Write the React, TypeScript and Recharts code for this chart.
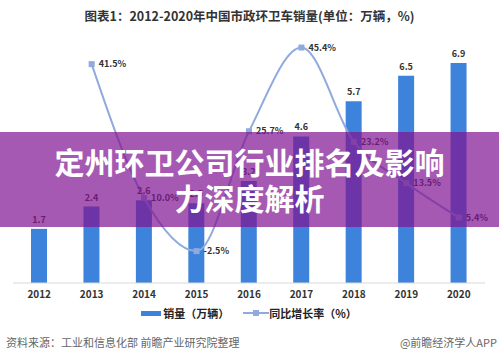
import { Bar, ComposedChart, LabelList, Legend, Line, XAxis, YAxis } from 'recharts'

const years = ['2012', '2013', '2014', '2015', '2016', '2017', '2018', '2019', '2020']
const sales = [1.7, 2.4, 2.6, 2.5, 3.2, 4.6, 5.7, 6.5, 6.9]
const growth = [null, 41.5, 10.0, -2.5, 25.7, 45.4, 23.2, 13.5, 5.4]

const data = years.map((y, i) => ({ year: y, sales: sales[i], growth: growth[i] }))

const barColor = '#3D83DB'
const lineColor = '#8FAADC'
const font = '"Noto Sans CJK SC", "Noto Sans", sans-serif'

const SquareDot = (p: any) => {
  if (p.value == null || p.cx == null) return null
  return <rect key={p.index} x={p.cx - 3} y={p.cy - 3} width={6} height={6} fill={lineColor} />
}

const LegendBox = () => (
  <div style={{ display: 'flex', justifyContent: 'center', alignItems: 'center', fontSize: 11, fontWeight: 700, color: '#222', fontFamily: font }}>
    <span style={{ display: 'inline-block', width: 20, height: 5, background: barColor, marginRight: 2 }} />
    <span>销量（万辆）</span>
    <svg width={26} height={8} style={{ marginLeft: 14 }}><line x1={0} y1={4} x2={26} y2={4} stroke={lineColor} strokeWidth={2} /><rect x={10} y={1} width={6} height={6} fill={lineColor} /></svg>
    <span>同比增长率（%）</span>
  </div>
)

export default function App() {
  return (
    <div style={{ position: 'absolute', left: 0, top: 0, width: 499, height: 360, background: '#fff', overflow: 'hidden', fontFamily: font }}>
      <div style={{ position: 'absolute', top: 6, width: 499, textAlign: 'center', fontSize: 12.5, fontWeight: 700, color: '#333' }}>
        图表1：2012-2020年中国市政环卫车销量(单位：万辆，%)
      </div>
      <ComposedChart width={499} height={321} data={data} margin={{ top: 28, right: 14, bottom: 0, left: 13 }} style={{ position: 'absolute', top: 0, left: 0 }}>
        <XAxis dataKey="year" axisLine={{ stroke: '#D9D9D9' }} tickLine={false} tick={{ fontSize: 10, fontWeight: 700, fill: '#333' }} height={22} />
        <YAxis yAxisId="l" hide domain={[0, 8]} />
        <YAxis yAxisId="r" orientation="right" hide domain={[-10, 50]} />
        <Legend verticalAlign="bottom" content={<LegendBox />} />
        <Bar yAxisId="l" dataKey="sales" fill={barColor} barSize={16} isAnimationActive={false}>
          <LabelList dataKey="sales" position="top" offset={6} style={{ fontSize: 9, fontWeight: 700, fill: '#333' }} formatter={(v: any) => Number(v).toFixed(1)} />
        </Bar>
        <Line yAxisId="r" dataKey="growth" type="monotone" stroke={lineColor} strokeWidth={2} dot={<SquareDot />} activeDot={false} connectNulls isAnimationActive={false}>
          <LabelList dataKey="growth" position="right" offset={7} style={{ fontSize: 9, fontWeight: 700, fill: '#333' }} formatter={(v: any) => (v == null ? '' : Number(v).toFixed(1) + '%')} />
        </Line>
      </ComposedChart>
      <div style={{ position: 'absolute', top: 132, left: 0, width: 499, height: 95, background: 'rgba(128,19,145,0.7)', color: '#fff', fontWeight: 700, fontSize: 30, lineHeight: '36px', textAlign: 'center', paddingTop: 11, boxSizing: 'border-box' }}>
        定州环卫公司行业排名及影响<br />力深度解析
      </div>
      <div style={{ position: 'absolute', top: 334, left: 6, fontSize: 11, color: '#666' }}>资料来源：工业和信息化部 前瞻产业研究院整理</div>
      <div style={{ position: 'absolute', top: 334, right: 2, fontSize: 11, color: '#666' }}>@前瞻经济学人APP</div>
    </div>
  )
}
